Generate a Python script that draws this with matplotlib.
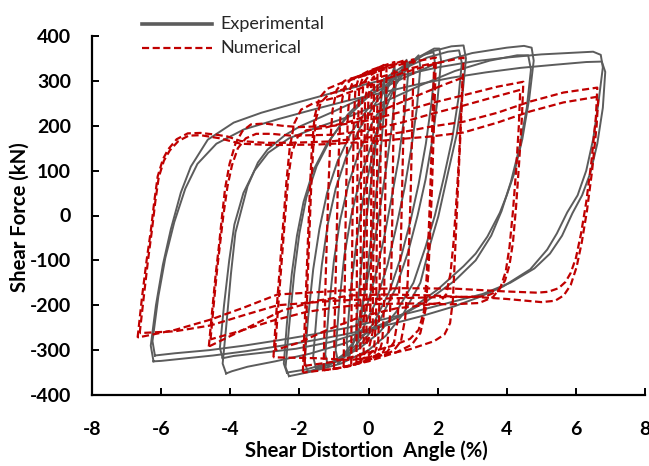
import matplotlib
matplotlib.use("Agg")
import matplotlib.pyplot as plt
from matplotlib.lines import Line2D

# ---------------------------------------------------------------------------
# Hysteresis loops: shear distortion angle (%) vs shear force (kN)
# Each loop is a closed path of (angle, force) points.
# ---------------------------------------------------------------------------

# Experimental cycles
exp_65a = [(-6.22, -325), (-6.30, -290), (-6.15, -200), (-5.95, -110), (-5.72, -31),
           (-5.43, 51), (-5.14, 109), (-4.65, 169), (-3.9, 207), (-3.1, 229),
           (-2.0, 253), (-1.0, 274), (0.0, 294), (1.0, 313), (2.0, 330), (3.0, 343),
           (4.0, 352), (5.0, 359), (6.0, 363), (6.5, 365), (6.72, 358), (6.78, 330),
           (6.65, 250), (6.5, 170), (6.3, 100), (6.05, 45), (5.75, 7), (5.45, -40),
           (5.17, -76), (4.68, -120), (3.9, -158), (3.2, -182), (2.46, -203),
           (1.5, -225), (0.5, -245), (-0.5, -262), (-1.5, -277), (-2.5, -290),
           (-3.5, -302), (-4.5, -312), (-5.5, -320), (-6.0, -324), (-6.22, -325)]
exp_65b = [(-6.18, -312), (-6.25, -280), (-6.08, -180), (-5.88, -95), (-5.62, -15),
           (-5.3, 60), (-4.95, 115), (-4.4, 160), (-3.6, 192), (-2.6, 215),
           (-1.6, 236), (-0.6, 256), (0.4, 274), (1.4, 292), (2.4, 307), (3.4, 319),
           (4.4, 329), (5.4, 336), (6.3, 342), (6.75, 343), (6.85, 320), (6.78, 240),
           (6.62, 160), (6.42, 95), (6.18, 45), (5.9, 5), (5.6, -45), (5.25, -85),
           (4.8, -118), (4.1, -150), (3.3, -175), (2.4, -193), (1.4, -213),
           (0.4, -232), (-0.6, -250), (-1.6, -265), (-2.6, -278), (-3.6, -290),
           (-4.6, -300), (-5.6, -307), (-6.18, -312)]
exp_45a = [(-4.12, -352), (-4.22, -330), (-4.12, -250), (-3.98, -130), (-3.85, -38),
           (-3.5, 65), (-3.2, 118), (-2.92, 147), (-2.4, 180), (-1.97, 199),
           (-1.0, 232), (0.0, 268), (1.0, 306), (2.0, 340), (3.0, 362), (4.0, 374),
           (4.5, 378), (4.72, 374), (4.78, 345), (4.65, 260), (4.45, 170), (4.2, 90),
           (4.0, 45), (3.8, 6), (3.44, -47), (3.1, -85), (2.75, -113), (2.0, -165),
           (1.2, -210), (0.3, -250), (-0.7, -285), (-1.7, -308), (-2.7, -325),
           (-3.5, -337), (-3.95, -347), (-4.12, -352)]
exp_45b = [(-4.22, -318), (-4.3, -295), (-4.18, -200), (-4.03, -100), (-3.88, -20),
           (-3.62, 50), (-3.3, 100), (-2.9, 140), (-2.3, 172), (-1.5, 196),
           (-0.5, 222), (0.5, 255), (1.5, 290), (2.5, 322), (3.5, 345), (4.3, 357),
           (4.62, 357), (4.7, 325), (4.58, 240), (4.38, 155), (4.12, 75), (3.85, 10),
           (3.55, -45), (3.1, -100), (2.5, -145), (1.7, -190), (0.9, -225),
           (-0.1, -258), (-1.1, -282), (-2.1, -297), (-3.1, -306), (-3.9, -313),
           (-4.22, -318)]
exp_25a = [(-2.3, -358), (-2.4, -338), (-2.3, -250), (-2.15, -130), (-2.0, -40),
           (-1.8, 40), (-1.5, 110), (-1.1, 170), (-0.6, 225), (0.0, 272), (0.6, 312),
           (1.2, 343), (1.8, 365), (2.4, 377), (2.75, 379), (2.82, 350), (2.72, 270),
           (2.55, 180), (2.3, 95), (2.02, -2), (1.8, -60), (1.5, -150), (1.0, -220),
           (0.5, -268), (0.0, -300), (-0.8, -330), (-1.6, -347), (-2.1, -355),
           (-2.3, -358)]
exp_25b = [(-2.36, -350), (-2.45, -330), (-2.36, -240), (-2.22, -130), (-2.07, -45),
           (-1.88, 30), (-1.6, 100), (-1.2, 160), (-0.7, 212), (-0.1, 258), (0.5, 298),
           (1.1, 330), (1.7, 352), (2.3, 365), (2.62, 368), (2.7, 340), (2.6, 260),
           (2.42, 170), (2.18, 85), (1.92, 0), (1.65, -70), (1.3, -150), (0.8, -215),
           (0.3, -262), (-0.3, -298), (-1.0, -325), (-1.8, -343), (-2.36, -350)]
exp_18 = [(-1.76, -348), (-1.85, -325), (-1.75, -230), (-1.6, -120), (-1.42, -30),
          (-1.2, 50), (-0.9, 120), (-0.5, 185), (0.0, 240), (0.5, 290), (1.0, 328),
          (1.5, 355), (1.9, 372), (2.05, 372), (2.1, 345), (2.0, 260), (1.85, 170),
          (1.65, 80), (1.42, 0), (1.15, -80), (0.8, -160), (0.35, -230), (-0.2, -285),
          (-0.8, -322), (-1.4, -340), (-1.76, -348)]
exp_15 = [(-1.52, -340), (-1.6, -315), (-1.5, -220), (-1.35, -110), (-1.18, -20),
          (-0.95, 60), (-0.65, 130), (-0.25, 195), (0.2, 250), (0.7, 300), (1.2, 337),
          (1.6, 358), (1.88, 364), (1.93, 335), (1.82, 250), (1.66, 160), (1.45, 70),
          (1.22, -10), (0.95, -90), (0.6, -170), (0.15, -240), (-0.4, -292),
          (-1.0, -325), (-1.52, -340)]
exp_12 = [(-1.17, -335), (-1.25, -310), (-1.15, -210), (-1.0, -100), (-0.82, -10),
          (-0.58, 70), (-0.28, 140), (0.1, 205), (0.55, 265), (1.0, 315), (1.3, 345),
          (1.45, 357), (1.5, 330), (1.4, 240), (1.24, 150), (1.04, 60), (0.82, -20),
          (0.55, -110), (0.2, -195), (-0.25, -265), (-0.75, -312), (-1.17, -335)]
exp_09 = [(-0.87, -330), (-0.95, -300), (-0.85, -200), (-0.7, -90), (-0.5, 0),
          (-0.25, 80), (0.05, 150), (0.4, 220), (0.75, 285), (1.0, 330), (1.1, 347),
          (1.15, 320), (1.05, 230), (0.88, 130), (0.67, 40), (0.45, -50),
          (0.18, -140), (-0.15, -230), (-0.5, -295), (-0.87, -330)]
exp_05 = [(-0.58, -320), (-0.63, -280), (-0.52, -170), (-0.35, -60), (-0.15, 40),
          (0.1, 130), (0.35, 215), (0.58, 290), (0.75, 332), (0.8, 300), (0.68, 200),
          (0.5, 100), (0.3, 0), (0.08, -100), (-0.18, -200), (-0.42, -280),
          (-0.58, -320)]
exp_03 = [(-0.33, -290), (-0.35, -240), (-0.22, -120), (-0.05, 0), (0.15, 120),
          (0.32, 230), (0.45, 305), (0.48, 260), (0.35, 140), (0.18, 20), (0.0, -100),
          (-0.18, -210), (-0.33, -290)]

# Numerical cycles
num_66a = [(-6.68, -272), (-6.55, -180), (-6.42, -100), (-6.3, -35), (-6.2, 30),
           (-6.1, 87), (-5.95, 125), (-5.8, 147), (-5.55, 170), (-5.23, 183),
           (-4.86, 184), (-4.4, 180), (-4.08, 176), (-3.7, 166), (-3.0, 162),
           (-2.25, 162), (-1.1, 165), (0.0, 174), (1.0, 186), (1.8, 198), (2.75, 209),
           (3.73, 229), (4.68, 254), (5.64, 274), (6.62, 285), (6.58, 220),
           (6.45, 120), (6.3, 30), (6.15, -40), (6.0, -95), (5.85, -128), (5.7, -148),
           (5.5, -162), (5.2, -170), (4.88, -172), (3.9, -169), (2.5, -163),
           (1.0, -162), (-0.2, -164), (-1.1, -169), (-2.63, -176), (-3.6, -205),
           (-4.57, -232), (-5.6, -255), (-6.68, -272)]
num_66b = [(-6.62, -262), (-6.5, -180), (-6.38, -100), (-6.27, -35), (-6.17, 30),
           (-6.07, 85), (-5.92, 122), (-5.75, 145), (-5.5, 166), (-5.2, 178),
           (-4.86, 179), (-4.3, 172), (-3.7, 160), (-2.8, 157), (-1.5, 158),
           (0.0, 164), (1.0, 171), (1.8, 176), (2.75, 185), (3.73, 207), (4.68, 232),
           (5.64, 252), (6.65, 265), (6.6, 200), (6.47, 100), (6.32, 10),
           (6.17, -60), (6.02, -115), (5.85, -155), (5.65, -178), (5.4, -190),
           (5.0, -193), (4.0, -186), (3.0, -181), (2.0, -182), (0.5, -185),
           (-1.0, -190), (-2.63, -200), (-3.6, -222), (-4.57, -245), (-5.6, -258),
           (-6.62, -262)]
num_45a = [(-4.62, -292), (-4.52, -210), (-4.42, -130), (-4.33, -70), (-4.25, -10),
           (-4.15, 60), (-4.02, 115), (-3.85, 160), (-3.65, 188), (-3.4, 203),
           (-3.0, 205), (-2.5, 200), (-2.0, 197), (-1.0, 200), (0.0, 212),
           (1.0, 232), (1.8, 250), (2.75, 268), (3.73, 287), (4.48, 298),
           (4.44, 220), (4.36, 120), (4.27, 20), (4.18, -60), (4.08, -110),
           (3.95, -145), (3.75, -168), (3.4, -180), (2.8, -182), (1.8, -178),
           (0.5, -176), (-0.5, -178), (-1.5, -190), (-2.5, -212), (-3.5, -250),
           (-4.62, -292)]
num_45b = [(-4.57, -276), (-4.48, -200), (-4.38, -120), (-4.29, -60), (-4.2, 0),
           (-4.08, 65), (-3.95, 112), (-3.78, 150), (-3.55, 172), (-3.25, 182),
           (-2.8, 182), (-2.25, 178), (-1.0, 180), (0.0, 190), (1.0, 208),
           (1.8, 226), (2.75, 245), (3.73, 266), (4.39, 280), (4.35, 200),
           (4.27, 100), (4.18, 10), (4.08, -70), (3.97, -125), (3.82, -160),
           (3.6, -182), (3.2, -195), (2.4, -198), (1.4, -196), (0.3, -197),
           (-0.8, -203), (-1.8, -215), (-2.8, -235), (-3.7, -257), (-4.57, -276)]
num_27a = [(-2.75, -316), (-2.68, -230), (-2.6, -150), (-2.52, -70), (-2.45, 0),
           (-2.37, 80), (-2.28, 150), (-2.15, 205), (-1.95, 236), (-1.6, 250),
           (-1.0, 262), (0.0, 290), (1.0, 318), (2.0, 340), (2.75, 352), (2.72, 280),
           (2.66, 180), (2.6, 80), (2.54, -20), (2.49, -110), (2.44, -190),
           (2.36, -240), (2.2, -265), (1.9, -280), (1.2, -298), (0.5, -310),
           (-0.5, -322), (-1.5, -318), (-2.2, -317), (-2.75, -316)]
num_27b = [(-2.7, -300), (-2.63, -220), (-2.55, -140), (-2.47, -60), (-2.4, 10),
           (-2.32, 85), (-2.22, 140), (-2.05, 175), (-1.8, 190), (-1.3, 195),
           (-0.5, 210), (0.5, 238), (1.5, 270), (2.2, 292), (2.72, 307), (2.68, 230),
           (2.62, 130), (2.54, 30), (2.46, -60), (2.37, -130), (2.25, -175),
           (2.05, -195), (1.6, -200), (0.8, -207), (-0.2, -225), (-1.2, -255),
           (-2.0, -283), (-2.7, -300)]
num_19a = [(-1.9, -350), (-1.85, -250), (-1.8, -150), (-1.75, -50), (-1.7, 50),
           (-1.64, 150), (-1.56, 220), (-1.42, 262), (-1.2, 282), (-0.8, 295),
           (0.0, 315), (1.0, 338), (1.95, 352), (1.92, 270), (1.88, 170), (1.84, 70),
           (1.79, -30), (1.73, -130), (1.65, -210), (1.5, -262), (1.25, -288),
           (0.8, -305), (0.0, -325), (-1.0, -342), (-1.9, -350)]
num_19b = [(-1.85, -335), (-1.8, -240), (-1.76, -140), (-1.71, -40), (-1.66, 60),
           (-1.6, 150), (-1.52, 215), (-1.38, 252), (-1.15, 270), (-0.7, 282),
           (0.2, 305), (1.1, 326), (1.9, 340), (1.87, 260), (1.83, 160), (1.79, 60),
           (1.74, -40), (1.68, -140), (1.6, -215), (1.45, -255), (1.2, -275),
           (0.7, -290), (-0.2, -310), (-1.1, -327), (-1.85, -335)]
num_13 = [(-1.3, -345), (-1.27, -240), (-1.24, -140), (-1.2, -40), (-1.16, 60),
          (-1.11, 160), (-1.04, 235), (-0.92, 280), (-0.7, 300), (0.0, 318),
          (0.7, 335), (1.3, 348), (1.28, 250), (1.25, 150), (1.22, 50), (1.18, -50),
          (1.13, -150), (1.06, -230), (0.94, -280), (0.72, -302), (0.0, -322),
          (-0.7, -338), (-1.3, -345)]
num_10 = [(-1.0, -342), (-0.98, -240), (-0.95, -140), (-0.92, -40), (-0.89, 60),
          (-0.85, 160), (-0.8, 240), (-0.7, 285), (-0.5, 305), (0.0, 318),
          (0.5, 332), (1.05, 346), (1.03, 250), (1.0, 150), (0.97, 50), (0.94, -50),
          (0.9, -150), (0.84, -235), (0.74, -282), (0.55, -303), (0.0, -322),
          (-0.5, -335), (-1.0, -342)]
num_07 = [(-0.72, -338), (-0.7, -230), (-0.68, -120), (-0.66, 0), (-0.63, 120),
          (-0.6, 220), (-0.54, 280), (-0.42, 305), (0.0, 322), (0.4, 333),
          (0.75, 342), (0.73, 240), (0.71, 120), (0.69, 0), (0.66, -120),
          (0.62, -225), (0.55, -283), (0.42, -305), (0.0, -322), (-0.4, -332),
          (-0.72, -338)]
num_05 = [(-0.5, -332), (-0.49, -200), (-0.47, -60), (-0.45, 80), (-0.43, 200),
          (-0.38, 280), (-0.28, 308), (0.0, 320), (0.3, 330), (0.52, 338),
          (0.51, 220), (0.49, 80), (0.47, -60), (0.45, -200), (0.4, -280),
          (0.3, -308), (0.0, -320), (-0.3, -328), (-0.5, -332)]
num_035 = [(-0.35, -328), (-0.34, -180), (-0.33, 0), (-0.31, 180), (-0.27, 285),
           (-0.15, 310), (0.1, 320), (0.36, 330), (0.35, 180), (0.34, 0),
           (0.32, -180), (0.28, -285), (0.15, -312), (-0.1, -320), (-0.35, -328)]
num_025 = [(-0.24, -322), (-0.23, -150), (-0.22, 50), (-0.2, 230), (-0.15, 295),
           (0.0, 310), (0.26, 322), (0.25, 150), (0.24, -50), (0.22, -230),
           (0.16, -298), (0.0, -312), (-0.24, -322)]
num_015 = [(-0.14, -310), (-0.13, -100), (-0.12, 100), (-0.1, 260), (0.0, 296),
           (0.16, 310), (0.15, 100), (0.14, -100), (0.12, -260), (0.0, -300),
           (-0.14, -310)]
num_008 = [(-0.06, -285), (-0.05, -60), (-0.04, 150), (0.0, 270), (0.09, 292),
           (0.08, 60), (0.07, -150), (0.03, -270), (-0.06, -285)]

exp_loops = [exp_65a, exp_65b, exp_45a, exp_45b, exp_25a, exp_25b,
             exp_18, exp_15, exp_12, exp_09, exp_05, exp_03]
num_loops = [num_66a, num_66b, num_45a, num_45b, num_27a, num_27b,
             num_19a, num_19b, num_13, num_10, num_07, num_05,
             num_035, num_025, num_015, num_008]

x_ticks = [-8, -6, -4, -2, 0, 2, 4, 6, 8]
y_ticks = [-400, -300, -200, -100, 0, 100, 200, 300, 400]

EXP_COLOR = "#5c5c5c"
NUM_COLOR = "#c00000"
FONT = "Lato"

W, H = 649, 466
fig = plt.figure(figsize=(W / 100, H / 100), dpi=100)
ax = fig.add_axes([92 / W, 1 - 395 / H, (645 - 92) / W, (395 - 36) / H])

for loop in exp_loops:
    xs = [p[0] for p in loop]
    ys = [p[1] for p in loop]
    ax.plot(xs, ys, color=EXP_COLOR, lw=1.4, solid_joinstyle="round", zorder=2)

for loop in num_loops:
    xs = [p[0] for p in loop]
    ys = [p[1] for p in loop]
    ax.plot(xs, ys, color=NUM_COLOR, lw=1.6, linestyle=(0, (3.2, 1.6)), zorder=3)

ax.set_xlim(-8, 8)
ax.set_ylim(-400, 400)
ax.set_xticks(x_ticks)
ax.set_yticks(y_ticks)
ax.set_xticklabels([str(t) for t in x_ticks], fontfamily=FONT, fontweight="bold",
                   fontsize=14)
ax.set_yticklabels([str(t) for t in y_ticks], fontfamily=FONT, fontweight="bold",
                   fontsize=14)
for side in ("top", "right"):
    ax.spines[side].set_visible(False)
for side in ("left", "bottom"):
    ax.spines[side].set_linewidth(1.6)
    ax.spines[side].set_color("black")
ax.tick_params(axis="both", direction="in", length=5, width=1.4, colors="black")
ax.tick_params(axis="x", pad=19)
ax.tick_params(axis="y", pad=15)
for lab in ax.get_xticklabels() + ax.get_yticklabels():
    lab.set_clip_on(False)

fig.text(366 / W, 1 - 451 / H, "Shear Distortion  Angle (%)", ha="center", va="center",
         fontfamily=FONT, fontweight="bold", fontsize=14.6)
fig.text(20 / W, 1 - 217 / H, "Shear Force (kN)", ha="center", va="center",
         rotation=90, fontfamily=FONT, fontweight="bold", fontsize=14.6)

# legend
fig.add_artist(Line2D([142 / W, 212 / W], [1 - 24 / H] * 2, transform=fig.transFigure,
                      color=EXP_COLOR, lw=2.6))
fig.add_artist(Line2D([142 / W, 212 / W], [1 - 48 / H] * 2, transform=fig.transFigure,
                      color=NUM_COLOR, lw=1.6, linestyle=(0, (3.2, 1.6))))
fig.text(220 / W, 1 - 24 / H, "Experimental", ha="left", va="center",
         fontfamily=FONT, fontsize=13, color="#262626")
fig.text(220 / W, 1 - 48 / H, "Numerical", ha="left", va="center",
         fontfamily=FONT, fontsize=13, color="#262626")

fig.savefig("out.png", dpi=100)
